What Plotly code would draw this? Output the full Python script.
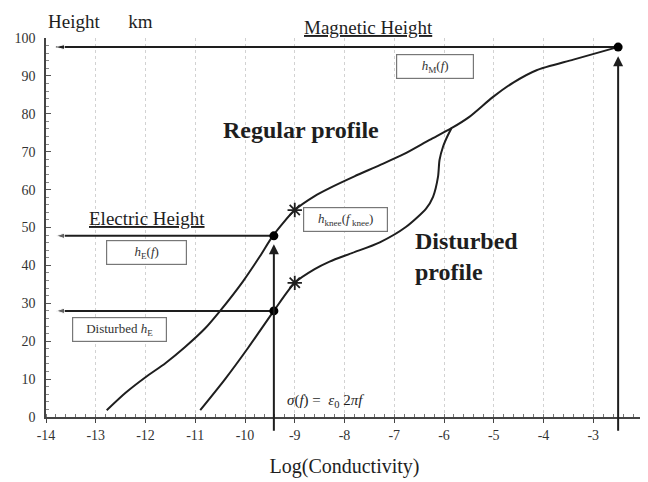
import plotly.graph_objects as go

# ---- data ----
regular_x = [-12.78, -12.4, -12.0, -11.6, -11.21, -10.8, -10.5, -10.04, -9.7, -9.44, -9.0,
             -8.6, -8.3, -7.8, -7.3, -6.8, -6.29, -5.85, -5.49, -5.02, -4.6, -4.14, -3.4, -2.51]
regular_y = [1.8, 6.4, 10.5, 14.2, 18.4, 23.4, 28.0, 35.8, 42.4, 47.8, 54.6,
             58.3, 60.4, 63.5, 66.4, 69.4, 73.1, 76.2, 79.2, 84.4, 88.3, 91.5, 94.3, 97.6]

disturbed_x = [-10.9, -10.4, -9.94, -9.42, -9.0, -8.6, -8.3, -7.84, -7.29, -6.76, -6.36,
               -6.22, -6.12, -6.09, -6.02, -5.92, -5.85]
disturbed_y = [1.8, 10.0, 18.2, 28.0, 35.4, 39.0, 41.0, 43.3, 46.1, 50.2, 55.0,
               58.1, 63.4, 67.8, 71.3, 74.4, 76.2]

dots_x = [-9.42, -9.42, -2.5]
dots_y = [47.8, 28.0, 97.6]
stars_x = [-9.0, -9.0]
stars_y = [54.6, 35.4]

magnetic_x, magnetic_h = -2.5, 97.6
sigma_x, electric_h, disturbed_h = -9.42, 47.8, 28.0
arrow_left_x = -13.8
arrow_bottom_y = -4.0

x_ticks = list(range(-14, -1))
y_ticks = list(range(0, 101, 10))

INK = "#1e1e1e"
SERIF = "Liberation Serif, Times New Roman, serif"

fig = go.Figure()
fig.add_trace(go.Scatter(x=regular_x, y=regular_y, mode="lines",
                         line=dict(color=INK, width=2, shape="spline", smoothing=0.7),
                         showlegend=False, hoverinfo="skip"))
fig.add_trace(go.Scatter(x=disturbed_x, y=disturbed_y, mode="lines",
                         line=dict(color=INK, width=2, shape="spline", smoothing=0.7),
                         showlegend=False, hoverinfo="skip"))

# horizontal arrows (head at left) drawn as lines with an arrow marker at the end
for hy, hx in [(magnetic_h, magnetic_x), (electric_h, sigma_x), (disturbed_h, sigma_x)]:
    fig.add_trace(go.Scatter(x=[hx, arrow_left_x], y=[hy, hy], mode="lines+markers",
                             line=dict(color=INK, width=2),
                             marker=dict(symbol="arrow", angleref="previous",
                                         size=[0, 9], color=INK),
                             showlegend=False, hoverinfo="skip", cliponaxis=False))

# vertical arrows (head at top), extending a little below the axis
for vx, top in [(magnetic_x, 95.2), (sigma_x, 45.6)]:
    fig.add_annotation(x=vx, y=top, ax=vx, ay=arrow_bottom_y, xref="x", yref="y",
                       axref="x", ayref="y", showarrow=True, arrowhead=2,
                       arrowsize=1.0, arrowwidth=2, arrowcolor=INK, text="")

fig.add_trace(go.Scatter(x=dots_x, y=dots_y, mode="markers",
                         marker=dict(color="black", size=9), showlegend=False,
                         cliponaxis=False))
fig.add_trace(go.Scatter(x=stars_x, y=stars_y, mode="markers",
                         marker=dict(symbol="asterisk-open", size=12, color=INK,
                                     line=dict(color=INK, width=1.8)),
                         showlegend=False))

def box(x, y, text, w, h=21, size=13):
    fig.add_annotation(x=x, y=y, xref="x", yref="y", text=text, showarrow=False,
                       width=w, height=h, bordercolor="#777", borderwidth=1.2,
                       borderpad=1, bgcolor="white",
                       font=dict(family=SERIF, size=size, color="#333"))

box(-6.19, 92.5, "<i>h</i><sub>M</sub>(<i>f</i>)", 74)
box(-7.99, 52.0, "<i>h</i><sub>knee</sub>(<i>f</i><sub> knee</sub>)", 81)
box(-11.98, 43.5, "<i>h</i><sub>E</sub>(<i>f</i>)", 77)
box(-12.52, 23.2, "Disturbed <i>h</i><sub>E</sub>", 91)

def text(x, y, t, size, xanchor="center", xref="x", yref="y"):
    fig.add_annotation(x=x, y=y, xref=xref, yref=yref, text=t, showarrow=False,
                       xanchor=xanchor, yanchor="middle", align="left",
                       font=dict(family=SERIF, size=size, color=INK))

# texts above the plot area (paper coordinates for y)
text(-7.51, 1.028, "<u>Magnetic Height</u>", 19, yref="paper")
text(0.0, 1.044, "Height&nbsp;&nbsp;&nbsp;&nbsp;&nbsp;&nbsp;km", 19, xanchor="left",
     xref="paper", yref="paper")
text(-11.98, 52.3, "<u>Electric Height</u>", 19)
text(-8.88, 75.7, "<b>Regular profile</b>", 24)
text(-6.62, 42.3, "<b>Disturbed<br>profile</b>", 24, xanchor="left")
text(-9.2, 4.3, "<i>σ</i>(<i>f</i>) =&nbsp;&nbsp;<i>ε</i><sub>0</sub> 2<i>πf</i>", 15, xanchor="left")

fig.update_xaxes(range=[-14, -2], tickvals=x_ticks, ticktext=[str(v) for v in x_ticks],
                 showline=True, linecolor="#444", linewidth=1.5, mirror=False,
                 ticks="outside", ticklen=4, tickcolor="#444",
                 minor=dict(dtick=0.2, ticks="inside", ticklen=3, tickcolor="#777"),
                 showgrid=True, gridcolor="#d2d2d2", griddash="dot", gridwidth=1,
                 zeroline=False,
                 tickfont=dict(family=SERIF, size=14, color="#333"),
                 title=dict(text="Log(Conductivity)", standoff=17,
                            font=dict(family=SERIF, size=20, color=INK)))
fig.update_yaxes(range=[0, 100], tickvals=y_ticks, ticktext=[str(v) for v in y_ticks],
                 showline=True, linecolor="#444", linewidth=1.5,
                 ticks="inside", ticklen=5, tickcolor="#555",
                 minor=dict(dtick=2, ticks="inside", ticklen=3, tickcolor="#888"),
                 showgrid=False, zeroline=False, ticklabelstandoff=6,
                 tickfont=dict(family=SERIF, size=14, color="#333"))

fig.update_layout(width=640, height=474, plot_bgcolor="white", paper_bgcolor="white",
                  margin=dict(l=38, r=5, t=30, b=65), showlegend=False)

fig.write_html("out.html")
